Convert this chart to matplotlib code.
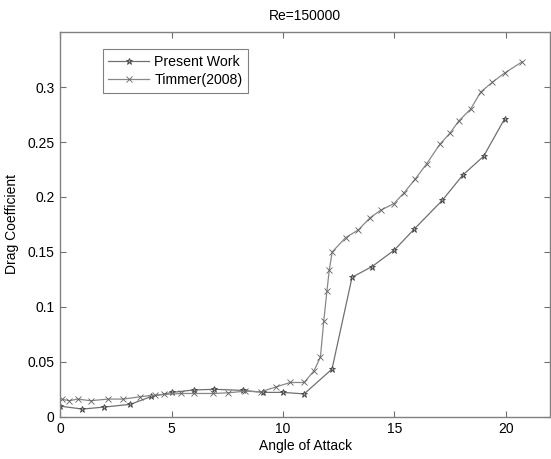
import matplotlib.pyplot as plt
import numpy as np

plt.rcParams['font.family'] = ['Liberation Sans', 'DejaVu Sans']

# Present Work
aoa_present = [0.0, 1.0, 1.96, 3.15, 4.1, 5.04, 6.0, 6.92, 8.2, 9.1, 10.0, 10.95,
               12.2, 13.1, 14.0, 15.0, 15.9, 17.15, 18.07, 19.0, 19.94]
cd_present = [0.0097, 0.007, 0.0088, 0.0113, 0.0185, 0.0222, 0.0244, 0.025, 0.024,
              0.0222, 0.0222, 0.0208, 0.0434, 0.127, 0.1367, 0.1518, 0.171, 0.197,
              0.220, 0.237, 0.271]

# Timmer(2008)
aoa_timmer = [0.1, 0.42, 0.79, 1.37, 2.14, 2.84, 3.59, 4.25, 4.68, 5.43, 6.02, 6.88,
              7.55, 8.30, 9.01, 9.71, 10.33, 10.95, 11.39, 11.68, 11.83, 11.97, 12.08,
              12.21, 12.81, 13.38, 13.9, 14.39, 14.98, 15.44, 15.92, 16.44, 17.04,
              17.49, 17.88, 18.42, 18.87, 19.4, 19.96, 20.73]
cd_timmer = [0.0158, 0.0146, 0.0161, 0.0146, 0.0161, 0.0161, 0.0182, 0.0197, 0.0203,
             0.0212, 0.0212, 0.0212, 0.0218, 0.0233, 0.0227, 0.0273, 0.0312, 0.0312,
             0.0418, 0.0542, 0.087, 0.114, 0.134, 0.150, 0.163, 0.170, 0.181, 0.188,
             0.194, 0.204, 0.216, 0.230, 0.248, 0.258, 0.269, 0.280, 0.2955, 0.3045,
             0.313, 0.323]

fig = plt.figure(figsize=(5.51, 4.59), dpi=100)
ax = fig.add_axes([0.109, 0.092, 0.89, 0.838])

ax.plot(aoa_present, cd_present, color='#707070', linewidth=0.9, marker='*',
        markersize=5, markeredgecolor='#404040', markerfacecolor='#a0a0a0',
        markeredgewidth=0.6, label='Present Work')
ax.plot(aoa_timmer, cd_timmer, color='#888888', linewidth=0.9, marker='x',
        markersize=4, markeredgecolor='#606060', markeredgewidth=0.6,
        label='Timmer(2008)')

ax.set_xlim(0, 22)
ax.set_ylim(0, 0.35)
ax.set_xticks([0, 5, 10, 15, 20])
ax.set_yticks([0, 0.05, 0.1, 0.15, 0.2, 0.25, 0.3])
ax.set_yticklabels(['0', '0.05', '0.1', '0.15', '0.2', '0.25', '0.3'])
ax.tick_params(direction='in', top=True, right=True, length=4, width=0.8,
               color='#707070', labelsize=10, pad=4)
for s in ax.spines.values():
    s.set_color('#808080')
    s.set_linewidth(1.0)

ax.set_title('Re=150000', fontsize=10, pad=9)
ax.set_xlabel('Angle of Attack', fontsize=10, labelpad=2)
ax.set_ylabel('Drag Coefficient', fontsize=10, labelpad=6)

leg = ax.legend(loc='upper left', bbox_to_anchor=(0.087, 0.955), fontsize=10.2,
                frameon=True, fancybox=False, edgecolor='#606060',
                handlelength=2.9, borderpad=0.4, labelspacing=0.3,
                handletextpad=0.35, borderaxespad=0)
leg.get_frame().set_linewidth(0.8)

fig.savefig('out.png', dpi=100)
